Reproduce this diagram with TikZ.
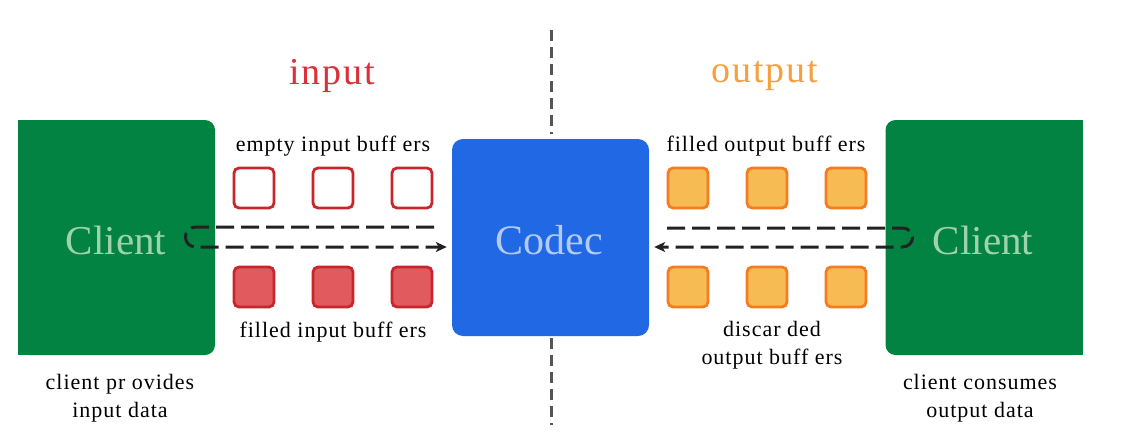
\documentclass[tikz,border=0pt]{standalone}
\usepackage{fontspec}
\setmainfont{Liberation Serif}
\usetikzlibrary{arrows.meta}
\definecolor{clientgreen}{HTML}{038342}
\definecolor{clienttext}{HTML}{9FD3AC}
\definecolor{codecblue}{HTML}{2168E5}
\definecolor{codectext}{HTML}{B3CAF5}
\definecolor{inred}{HTML}{C8262C}
\definecolor{infill}{HTML}{E05A5E}
\definecolor{outorange}{HTML}{F57C22}
\definecolor{outfill}{HTML}{F6BB52}
\definecolor{titlered}{HTML}{D9303A}
\definecolor{titleorange}{HTML}{F5A03C}
\definecolor{arrowgrey}{HTML}{222222}
\definecolor{divgrey}{HTML}{555555}
\tikzset{
  x=1pt, y=-1pt,
  bigbox/.style={rectangle, rounded corners=10pt, inner sep=0pt, minimum width=197pt, minimum height=235pt},
  clientbox/.style={bigbox, fill=clientgreen},
  clientlbl/.style={font=\fontsize{41}{44}\selectfont, text=clienttext, inner sep=0pt},
  codecbox/.style={rectangle, rounded corners=11pt, inner sep=0pt, minimum size=197pt, fill=codecblue, text=codectext, font=\fontsize{42}{44}\selectfont},
  buf/.style={rectangle, rounded corners=5pt, minimum size=40pt, inner sep=0pt, line width=2.8pt},
  emptybuf/.style={buf, draw=inred, fill=white},
  inbuf/.style={buf, draw=inred, fill=infill},
  outbuf/.style={buf, draw=outorange, fill=outfill},
  lbl/.style={font=\fontsize{22}{27.5}\selectfont\addfontfeature{LetterSpace=4.5}, align=center, inner sep=0pt, text=black},
  title/.style={font=\fontsize{38}{40}\selectfont\addfontfeature{LetterSpace=5}, inner sep=0pt},
  flow/.style={draw=arrowgrey, line width=3pt, dash pattern=on 18pt off 7pt},
  divider/.style={draw=divgrey, line width=3pt, dash pattern=on 11pt off 6pt},
}
\begin{document}
\begin{tikzpicture}
\useasboundingbox (0,0) rectangle (1148,442);
\fill[white] (0,0) rectangle (1148,442);

% clients
\node[clientbox] (cl) at (116.5,237.5) {};
\fill[clientgreen] (cl.north west) rectangle ([xshift=20pt]cl.south west);
\node[clientlbl] (cltext) at (116,240) {Client};

\node[clientbox] (cr) at (984,237.5) {};
\fill[clientgreen] ([xshift=-20pt]cr.north east) rectangle (cr.south east);
\node[clientlbl] (crtext) at (983,240) {Client};

% codec
\node[codecbox] (codec) at (550.5,237.5) {};
\node[font=\fontsize{42}{44}\selectfont, text=codectext, inner sep=0pt] (codectext) at (549,240) {Codec};

% divider
\coordinate (dtop) at (551,30);
\coordinate (dbot) at (551,425);
\draw[divider] (dtop) -- ([yshift=5pt]codec.north -| dtop);
\draw[divider] ([yshift=-2pt]codec.south -| dbot) -- (dbot);

% titles
\node[title, text=titlered] (tin) at (332,76) {input};
\node[title, text=titleorange] (tout) at (765,76) {output};

% input buffers
\node[emptybuf] (e1) at (254,188) {};
\node[emptybuf] (e2) at (333,188) {};
\node[emptybuf] (e3) at (412,188) {};
\node[inbuf] (f1) at (254,287) {};
\node[inbuf] (f2) at (333,287) {};
\node[inbuf] (f3) at (412,287) {};

% output buffers
\node[outbuf] (o1) at (688,188) {};
\node[outbuf] (o2) at (767,188) {};
\node[outbuf] (o3) at (846,188) {};
\node[outbuf] (d1) at (688,287) {};
\node[outbuf] (d2) at (767,287) {};
\node[outbuf] (d3) at (846,287) {};

% labels
\node[lbl] (lempty) at (333,146) {empty input buff ers};
\node[lbl] (lfilled) at (333,332) {filled input buff ers};
\node[lbl] (lfout) at (766,146) {filled output buff ers};
\node[lbl] (ldisc) at (772,345) {discar ded\\output buff ers};
\node[lbl] (lprov) at (120,398) {client pr ovides\\input data};
\node[lbl] (lcons) at (980,398) {client consumes\\output data};

% flows
\coordinate (lt) at (434,227);
\coordinate (lh1) at (196,227);
\coordinate (lh2) at (196,247);
\draw[flow, -{Stealth[length=11pt,width=10pt,inset=3pt]}]
  (lt) -- (lh1) .. controls (182,227) and (182,247) .. (lh2) -- ([xshift=-5pt]codec.west |- lh2);

\coordinate (rt) at (667,228);
\coordinate (rh1) at (902,228);
\coordinate (rh2) at (902,247);
\draw[flow, -{Stealth[length=11pt,width=10pt,inset=3pt]}]
  (rt) -- (rh1) .. controls (916,228) and (916,247) .. (rh2) -- ([xshift=5pt]codec.east |- rh2);
\end{tikzpicture}
\end{document}
